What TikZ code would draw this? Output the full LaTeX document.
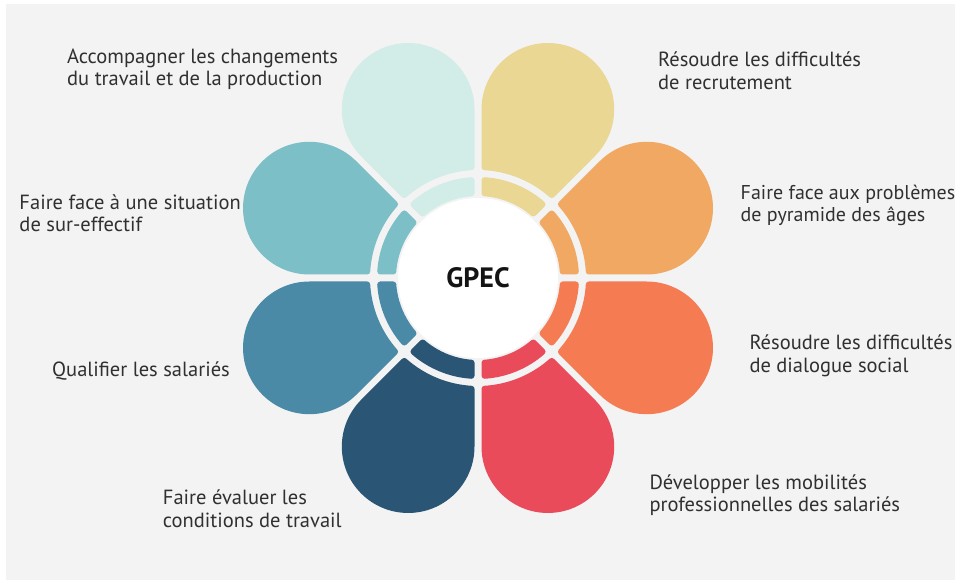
\documentclass[tikz,border=0pt]{standalone}
\usepackage{fontspec}
\setmainfont{PT Sans}

\definecolor{pagegray}{HTML}{F3F3F3}
\definecolor{labelgray}{HTML}{303030}
\definecolor{petalcyan}{HTML}{D2ECE8}
\definecolor{petalyellow}{HTML}{EAD793}
\definecolor{petalorange}{HTML}{F1A862}
\definecolor{petalcoral}{HTML}{F57B53}
\definecolor{petalred}{HTML}{EA4B5B}
\definecolor{petalnavy}{HTML}{2A5575}
\definecolor{petalblue}{HTML}{4A8AA6}
\definecolor{petalteal}{HTML}{7CBFC7}

% two-line label whose reference point is the first baseline
\newcommand\twolines[2]{\vtop{\baselineskip=22.4pt\hbox{#1}\hbox{#2}}}

% one petal: outer drop and inner ring segment, bisector at angle #1
\newcommand\flowerpetal[3]{%
  \begin{scope}[shift={(478,302)}, rotate=#1]
    \path[piece=#2] ({-\aOut}:\rOut)
      -- ({\D+\Rs*cos(112.5)},{-\Rs*sin(112.5)})
      arc[start angle=-112.5, end angle=112.5, radius=\Rs]
      -- ({\aOut}:\rOut)
      arc[start angle=\aOut, end angle=-\aOut, radius=\rOut] -- cycle;
    \path[piece=#2] ({-\aInB}:\rInB)
      arc[start angle=-\aInB, end angle=\aInB, radius=\rInB]
      -- ({\aInA}:\rInA)
      arc[start angle=\aInA, end angle=-\aInA, radius=\rInA] -- cycle;
    \coordinate (#3) at (\D,0);
  \end{scope}}

\begin{document}
\begin{tikzpicture}[x=1pt, y=1pt,
  piece/.style={fill=#1, draw=#1, line width=6pt, line join=round},
  label/.style={anchor=base west, inner sep=0pt, text=labelgray,
    font=\fontsize{20.5}{22.4}\selectfont},
  hub/.style={circle, fill=white, minimum size=160pt, inner sep=0pt,
    font=\fontsize{28}{28}\selectfont\bfseries, text=black!92}]

  % page
  \fill[white] (0,0) rectangle (955,580);
  \fill[pagegray] (6,0) rectangle (955,576);
  \useasboundingbox (0,0) rectangle (955,580);

  % petal geometry (rounded by offsetting 3pt and stroking back)
  \pgfmathsetmacro\G{6.5}
  \pgfmathsetmacro\D{182.54}
  \pgfmathsetmacro\Rs{\D*sin(22.5)-\G}
  \pgfmathsetmacro\rOut{111}
  \pgfmathsetmacro\aOut{22.5-asin(\G/\rOut)}
  \pgfmathsetmacro\rInB{98}
  \pgfmathsetmacro\aInB{22.5-asin(\G/\rInB)}
  \pgfmathsetmacro\rInA{85}
  \pgfmathsetmacro\aInA{22.5-asin(\G/\rInA)}

  \flowerpetal{112.5}{petalcyan}{p1}
  \flowerpetal{67.5}{petalyellow}{p2}
  \flowerpetal{22.5}{petalorange}{p3}
  \flowerpetal{-22.5}{petalcoral}{p4}
  \flowerpetal{-67.5}{petalred}{p5}
  \flowerpetal{-112.5}{petalnavy}{p6}
  \flowerpetal{-157.5}{petalblue}{p7}
  \flowerpetal{157.5}{petalteal}{p8}

  \node[hub] (gpec) at (478,302) {GPEC};

  % labels
  \node[label] (l1) at (67,516.7)
    {\twolines{Accompagner les changements}{du travail et de la production}};
  \node[label] (l2) at (658,513.3)
    {\twolines{Résoudre les difficultés}{de recrutement}};
  \node[label, font=\fontsize{20}{22.4}\selectfont] (l3) at (740.5,380.7)
    {\twolines{Faire face aux problèmes}{de pyramide des âges}};
  \node[label] (l4) at (749.3,230)
    {\twolines{Résoudre les difficultés}{de dialogue social}};
  \node[label] (l5) at (649.3,90.7)
    {\twolines{Développer les mobilités}{professionnelles des salariés}};
  \node[label] (l6) at (162.7,75)
    {\twolines{Faire évaluer les}{conditions de travail}};
  \node[label] (l7) at (52,203) {Qualifier les salariés};
  \node[label] (l8) at (19.3,370.7)
    {\twolines{Faire face à une situation}{de sur-effectif}};
\end{tikzpicture}
\end{document}
